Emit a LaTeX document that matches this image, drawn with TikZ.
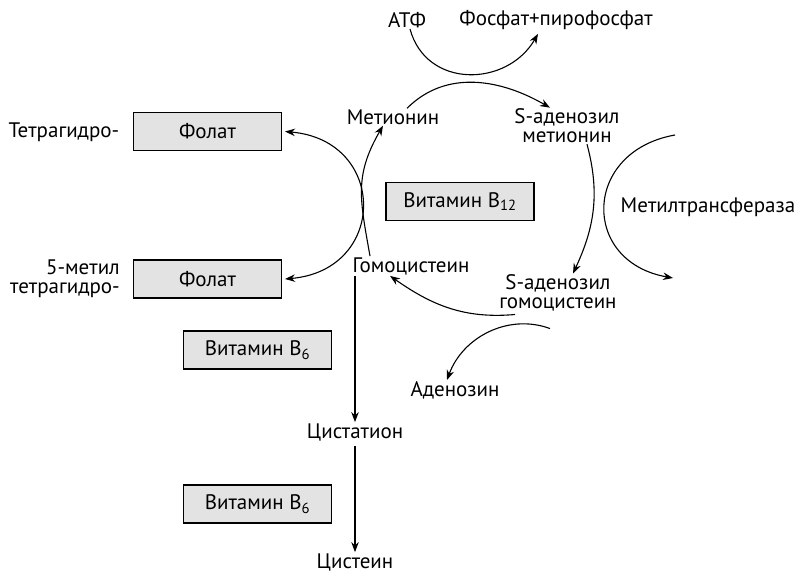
\documentclass[tikz,border=0pt]{standalone}
\usepackage{fontspec}
\setmainfont{PT Sans}
\usetikzlibrary{arrows.meta}

\begin{document}
\begin{tikzpicture}[x=1pt,y=1pt,
	font=\fontsize{21}{21}\selectfont,
	box/.style={draw,fill=gray!22,line width=1.1pt,minimum width=148pt,minimum height=38pt,inner sep=0pt},
	txt/.style={inner sep=1pt,align=center},
	arr/.style={line width=1.1pt,-{Stealth[length=10pt,width=7.5pt]}}]
	\useasboundingbox (0,0) rectangle (799,-577);
	\begin{scope}[every node/.style={txt}]
	\node (atp) at (407,-20) {АТФ};
	\node (pp) at (556,-20) {Фосфат+пирофосфат};
	\node (met) at (393,-117) {Метионин};
	\node (sam) at (567,-126) {S-аденозил\\[-2pt]метионин};
	\node (mtf) at (708,-207) {Метилтрансфераза};
	\node (hcy) at (411,-266) {Гомоцистеин};
	\node (sah) at (558,-293) {S-аденозил\\[-2pt]гомоцистеин};
	\node (ado) at (455,-390) {Аденозин};
	\node (cth) at (355,-432) {Цистатион};
	\node[anchor=base] (cys) at (355,-568) {Цистеин};
	\node (thf) at (64,-132) {Тетрагидро-};
	\node[align=right,anchor=east] (mthf) at (121,-279) {5-метил\\[-2pt]тетрагидро-};
	\end{scope}
	\begin{scope}[every node/.style={box}]
	\node (fol1) at (207.5,-131.5) {Фолат};
	\node (fol2) at (207.5,-279) {Фолат};
	\node (b12) at (460,-201.5) {Витамин B\textsubscript{12}};
	\node (b6a) at (257.5,-350) {Витамин B\textsubscript{6}};
	\node (b6b) at (257.5,-504) {Витамин B\textsubscript{6}};
	\end{scope}
	\coordinate (mt1) at (675,-135);
	\coordinate (mt2) at (673,-278);
	% methionine cycle
	\draw [arr] ([xshift=3pt]atp.south) to [out=-75,in=-120,distance=62pt] ([xshift=-18pt,yshift=-3pt]pp.south);
	\draw [arr] ([xshift=14pt]met.north) to [out=45,in=150] ([xshift=-17pt]sam.north);
	\draw [arr] ([xshift=20pt]sam.south) to [out=-75,in=65] ([xshift=15pt]sah.north);
	\draw [arr] (mt1) to [out=190,in=170,distance=94pt] (mt2);
	\draw [arr] ([xshift=-43pt,yshift=-2pt]sah.south) to [out=185,in=-35] ([xshift=-21pt]hcy.south);
	\draw [arr] ([xshift=-8pt,yshift=-16pt]sah.south) to [out=160,in=70] ([xshift=-8pt]ado.north);
	\draw [arr] ([xshift=-41pt]hcy.north) to [out=100,in=-120,distance=58pt] ([xshift=-10pt]met.south);
	% folate
	\draw [arr,{Stealth[length=10pt,width=7.5pt]}-{Stealth[length=10pt,width=7.5pt]}] ([xshift=3pt]fol1.east) to [out=-5,in=5,distance=103pt] ([xshift=3pt]fol2.east);
	% transsulfuration
	\draw [arr] (cth |- hcy.south) -- (cth.north);
	\draw [arr] ([yshift=-4pt]cth.south) -- (cys.north);
\end{tikzpicture}
\end{document}
